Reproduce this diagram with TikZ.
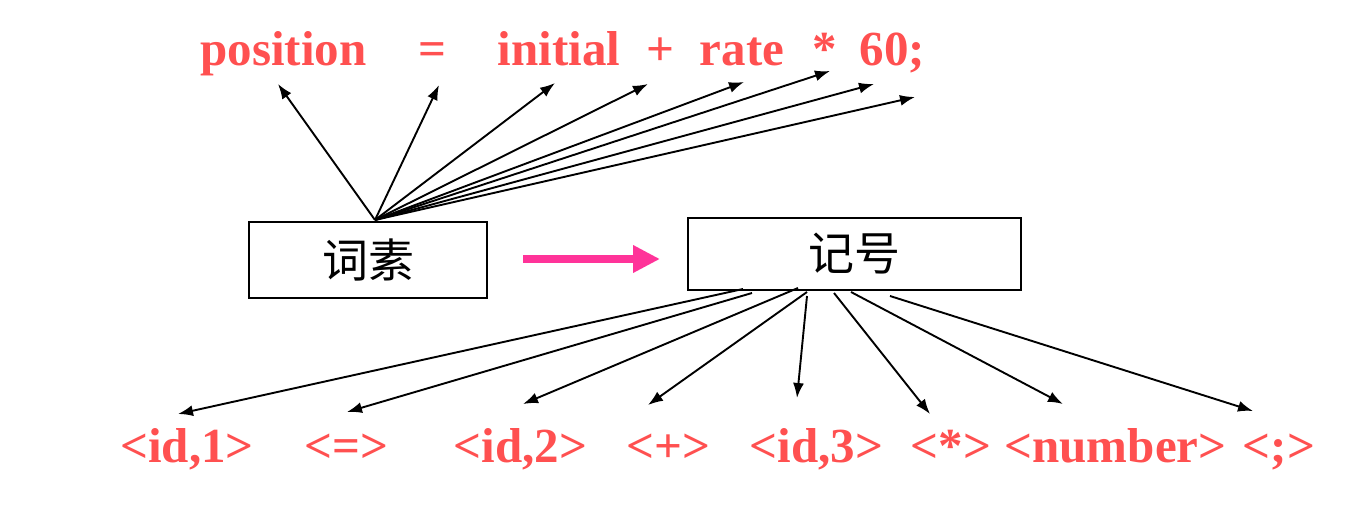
\documentclass[tikz,border=0pt]{standalone}
\usepackage{fontspec}
\setmainfont{Liberation Serif}
\newfontfamily\cjk{Noto Sans CJK SC}
\usetikzlibrary{arrows.meta}
\definecolor{tokred}{RGB}{255,80,80}
\definecolor{arrpink}{RGB}{255,51,153}
\tikzset{
  tok/.style={anchor=base, inner sep=0pt, text=tokred, font=\fontsize{49}{49}\selectfont\bfseries},
  wordbox/.style={draw=black, line width=2.6pt, inner sep=0pt, font=\cjk\fontsize{46}{46}\selectfont},
  ptr/.style={line width=1.9pt, -{Latex[length=15pt,width=11pt]}},
}
\begin{document}
\begin{tikzpicture}[x=1pt,y=-1pt]
\useasboundingbox (0,0) rectangle (1369,505);
% top tokens
\node[tok] (t1) at (283.5,66) {position};
\node[tok] (t2) at (432,66) {=};
\node[tok] (t3) at (559,66) {initial};
\node[tok] (t4) at (660,66) {+};
\node[tok] (t5) at (742,66) {rate};
\node[tok] (t6) at (825,66) {*};
\node[tok] (t7) at (892.5,66) {60;};
% boxes
\node[wordbox, minimum width=238pt, minimum height=76pt] (cs) at (368,260) {词素};
\node[wordbox, minimum width=333pt, minimum height=72pt] (jh) at (854.5,254) {记号};
% pink arrow
\coordinate (pa) at (523,259);
\coordinate (pb) at (660,259);
\draw[arrpink, line width=8pt, -{Triangle[length=27pt,width=26pt]}] (pa) -- (pb);
% bottom tokens
\node[tok] (b1) at (187,462) {<id,1>};
\node[tok] (b2) at (346.5,462) {<=>};
\node[tok] (b3) at (520.5,462) {<id,2>};
\node[tok] (b4) at (668.5,462) {<+>};
\node[tok] (b5) at (816.5,462) {<id,3>};
\node[tok] (b6) at (951,462) {<*>};
\node[tok] (b7) at (1115.5,462) {<number>};
\node[tok] (b8) at (1279,462) {<;>};
% top arrow origin and tips
\coordinate (o) at (375,220);
\coordinate (u1) at (278,84);
\coordinate (u2) at (439,85);
\coordinate (u3) at (555,83);
\coordinate (u4) at (648,84);
\coordinate (u5) at (744,82);
\coordinate (u6) at (830,71);
\coordinate (u7) at (874,84);
\coordinate (u8) at (915,97);
\foreach \i in {1,...,8} \draw[ptr] (o) -- (u\i);
% bottom arrows
\coordinate (s1) at (743,289);
\coordinate (s2) at (752,293);
\coordinate (s3) at (798,288);
\coordinate (s4) at (807,292);
\coordinate (s5) at (807,296);
\coordinate (s6) at (834,293);
\coordinate (s7) at (851,292);
\coordinate (s8) at (890,296);
\coordinate (d1) at (178,414);
\coordinate (d2) at (347,412);
\coordinate (d3) at (523,404);
\coordinate (d4) at (648,405);
\coordinate (d5) at (797,398);
\coordinate (d6) at (930,414);
\coordinate (d7) at (1063,404);
\coordinate (d8) at (1253,411);
\foreach \i in {1,...,8} \draw[ptr] (s\i) -- (d\i);
\end{tikzpicture}
\end{document}
